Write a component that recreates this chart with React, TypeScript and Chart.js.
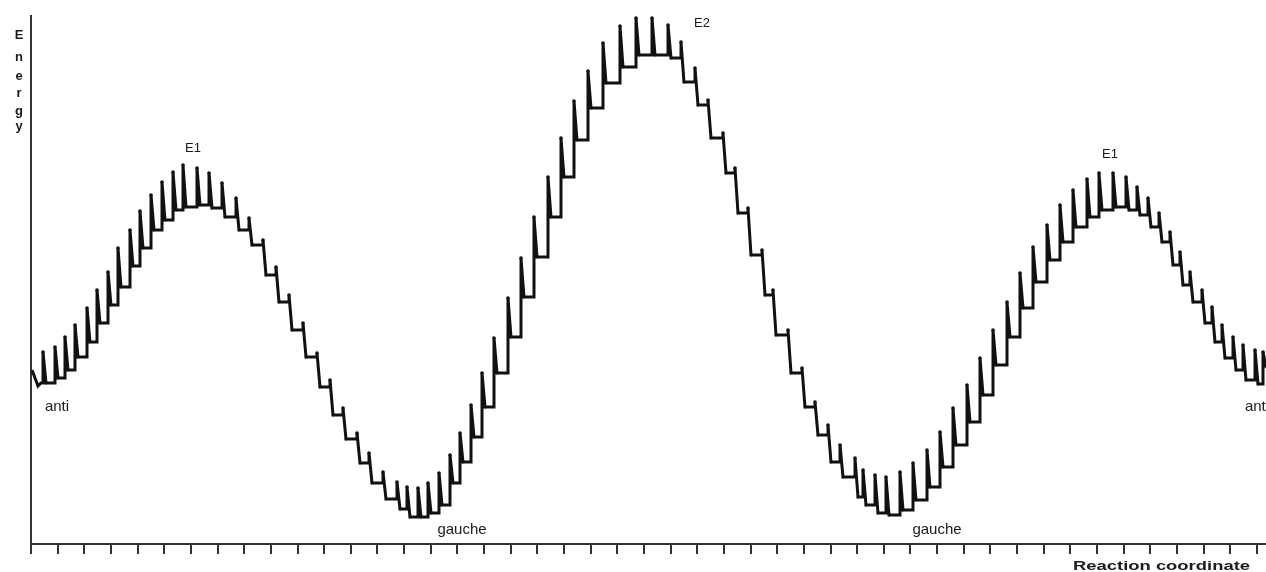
import React, { useEffect, useRef } from "react";
import { Chart, registerables } from "chart.js";

Chart.register(...registerables);

// Axis ranges (arbitrary units)
const X_MAX = 1235;
const E_MAX = 528;
const TICK_STEP = 26.65;
const TICK_COUNT = 47;

// Lead-in of the trace before the first step
const startX = [1, 4, 7, 10];
const startE = [174, 166, 158, 161];

// Each step: position, spike energy, settled plateau energy
const stepX = [
  12, 24, 34, 44, 56, 66, 77, 87, 99, 109, 120, 131, 142, 152, 166, 178, 191, 205, 218, 232,
  245, 258, 272, 286, 299, 312, 326, 338, 352, 366, 376, 387, 397, 408, 419, 429, 440, 451, 463, 477,
  490, 503, 517, 530, 543, 557, 572, 589, 605, 621, 637, 650, 664, 677, 692, 704, 717, 731, 742, 757,
  771, 784, 797, 809, 824, 832, 844, 855, 869, 882, 896, 909, 922, 936, 949, 962, 976, 989, 1002, 1016,
  1029, 1042, 1056, 1068, 1082, 1095, 1106, 1117, 1128, 1139, 1149, 1159, 1171, 1181, 1191, 1202, 1212, 1224, 1232,
];
const spikeE = [
  192, 197, 207, 219, 236, 254, 272, 296, 314, 333, 349, 362, 372, 379, 376, 371, 361, 346, 326, 304,
  277, 249, 221, 191, 164, 136, 111, 91, 72, 62, 57, 56, 61, 71, 89, 111, 139, 171, 206, 246,
  286, 327, 367, 406, 443, 473, 501, 518, 526, 526, 519, 502, 476, 444, 411, 376, 336, 294, 254, 214,
  176, 142, 119, 99, 86, 74, 69, 67, 72, 81, 94, 112, 136, 159, 186, 214, 242, 271, 297, 319,
  339, 354, 365, 371, 371, 367, 357, 346, 331, 312, 292, 272, 254, 237, 219, 207, 199, 194, 192,
];
const plateauE = [
  161, 166, 174, 187, 202, 221, 239, 257, 278, 296, 314, 324, 334, 337, 339, 336, 327, 314, 299, 269,
  242, 214, 187, 157, 129, 105, 81, 61, 45, 35, 27, 27, 31, 39, 61, 82, 107, 137, 171, 207,
  247, 287, 327, 367, 404, 436, 461, 477, 489, 489, 486, 462, 439, 406, 371, 331, 289, 249, 209, 171,
  137, 109, 82, 67, 47, 39, 31, 29, 34, 44, 57, 77, 99, 122, 149, 179, 207, 236, 262, 284,
  302, 317, 327, 334, 337, 334, 329, 317, 302, 279, 259, 242, 221, 202, 186, 174, 164, 160, 177,
];
const endX = 1235;

// State annotations
const stateLabels = ["anti", "E1", "gauche", "E2", "gauche", "E1", "anti"];
const stateX = [26, 162, 431, 671, 906, 1079, 1226];
const stateE = [133, 392, 10, 517, 10, 386, 133];

const yTitle = "Energy";
const xTitle = "Reaction coordinate";
const tickValues = Array.from({ length: TICK_COUNT }, (_, i) => i * TICK_STEP);

function buildTrace() {
  const pts: { x: number; y: number }[] = [];
  const radii: number[] = [];
  startX.forEach((x, i) => {
    pts.push({ x, y: startE[i] });
    radii.push(0);
  });
  let prev = startE[startE.length - 1];
  stepX.forEach((x, i) => {
    pts.push({ x, y: prev });
    radii.push(0);
    pts.push({ x, y: spikeE[i] });
    radii.push(1.8);
    pts.push({ x: x + 3, y: plateauE[i] });
    radii.push(1.4);
    prev = plateauE[i];
  });
  pts.push({ x: endX, y: prev });
  radii.push(0);
  return { pts, radii };
}

const FONT = '"Liberation Sans", Arial, Helvetica, sans-serif';

const labelsPlugin = {
  id: "stateLabels",
  afterDraw(chart: any) {
    const { ctx, scales } = chart;
    const xs = scales.x;
    const ys = scales.y;
    ctx.save();
    ctx.fillStyle = "#1a1a1a";
    ctx.textBaseline = "alphabetic";
    ctx.textAlign = "center";
    stateLabels.forEach((t, i) => {
      const isE = t.startsWith("E");
      ctx.font = `${isE ? 13 : 15}px ${FONT}`;
      ctx.fillText(t, xs.getPixelForValue(stateX[i]), ys.getPixelForValue(stateE[i]));
    });
    // vertical stacked y title
    ctx.font = `bold 13px ${FONT}`;
    const baselines = [39, 61, 80, 97, 115, 130];
    yTitle.split("").forEach((ch, i) => {
      ctx.fillText(ch, 19, baselines[i]);
    });
    // x title, right aligned under the axis
    ctx.font = `bold 13px ${FONT}`;
    const w = ctx.measureText(xTitle).width;
    const target = 177;
    ctx.translate(1073, 570);
    ctx.scale(target / w, 1);
    ctx.textAlign = "left";
    ctx.fillText(xTitle, 0, 0);
    ctx.restore();
  },
};

export default function App() {
  const ref = useRef<HTMLCanvasElement | null>(null);
  useEffect(() => {
    if (!ref.current) return;
    const { pts, radii } = buildTrace();
    const chart = new Chart(ref.current, {
      type: "line",
      data: {
        datasets: [
          {
            data: pts,
            borderColor: "#111",
            backgroundColor: "#111",
            borderWidth: 3,
            pointRadius: radii,
            pointBorderWidth: 0,
            pointStyle: "circle",
            tension: 0,
            fill: false,
          },
        ],
      },
      options: {
        animation: false,
        responsive: false,
        devicePixelRatio: 1,
        layout: { padding: { left: 31, top: 16, right: 0, bottom: 0 } },
        plugins: { legend: { display: false }, tooltip: { enabled: false } },
        scales: {
          x: {
            type: "linear",
            min: 0,
            max: X_MAX,
            ticks: { display: false },
            afterBuildTicks: (s: any) => {
              s.ticks = tickValues.map((value) => ({ value }));
            },
            afterFit: (s: any) => {
              s.height = 28;
            },
            grid: {
              display: true,
              drawOnChartArea: false,
              drawTicks: true,
              tickLength: 10,
              color: "#333",
              lineWidth: 2,
            },
            border: { display: true, color: "#333", width: 2 },
          },
          y: {
            type: "linear",
            min: 0,
            max: E_MAX,
            ticks: { display: false },
            afterFit: (s: any) => {
              s.width = 0;
            },
            grid: { display: false },
            border: { display: true, color: "#333", width: 2 },
          },
        },
      },
      plugins: [labelsPlugin],
    });
    return () => chart.destroy();
  }, []);
  return (
    <div style={{ position: "fixed", left: 0, top: 0, width: 1266, height: 572, background: "#fff" }}>
      <canvas ref={ref} width={1266} height={572} style={{ display: "block" }} />
    </div>
  );
}
